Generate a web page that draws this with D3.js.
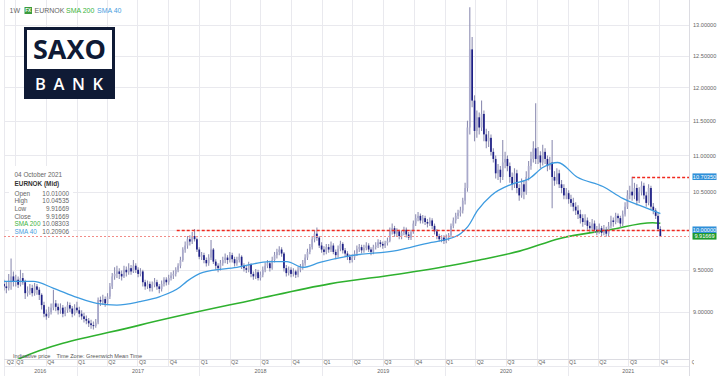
<!DOCTYPE html>
<html><head><meta charset="utf-8">
<script src="https://cdn.jsdelivr.net/npm/d3@7"></script>
<style>
body{margin:0;background:#fff;}
svg{display:block;font-family:"Liberation Sans",Arial,sans-serif;}
</style>
</head><body>
<svg id="c" width="720" height="382"></svg>
<script>
// ---------- DATA ----------
const firstWeek = "2016-05-23";   // weekly candles, Monday dates
const opens = [
9.35,9.33,9.30,9.28,9.35,9.42,9.36,9.38,9.32,9.40,
9.35,9.22,9.25,9.28,9.22,9.30,9.26,9.20,9.08,8.98,
8.95,9.00,9.05,9.10,9.06,9.02,9.05,8.98,9.02,9.08,
9.04,8.98,9.05,9.02,8.98,8.95,8.92,8.90,8.87,8.85,
8.84,8.88,9.14,9.12,9.15,9.10,9.18,9.30,9.42,9.45,
9.48,9.45,9.42,9.50,9.47,9.52,9.48,9.55,9.50,9.45,
9.48,9.35,9.30,9.33,9.28,9.32,9.35,9.30,9.27,9.33,
9.38,9.35,9.40,9.43,9.45,9.50,9.55,9.62,9.75,9.80,
9.88,9.85,9.92,9.88,9.75,9.66,9.68,9.62,9.58,9.65,
9.75,9.60,9.55,9.52,9.58,9.62,9.65,9.62,9.68,9.63,
9.58,9.62,9.66,9.55,9.52,9.50,9.56,9.45,9.42,9.47,
9.40,9.44,9.50,9.55,9.58,9.52,9.62,9.68,9.72,9.75,
9.70,9.52,9.46,9.50,9.45,9.48,9.44,9.50,9.53,9.58,
9.65,9.72,9.78,9.88,9.95,9.90,9.80,9.75,9.72,9.78,
9.75,9.80,9.72,9.68,9.76,9.82,9.74,9.70,9.66,9.62,
9.65,9.70,9.76,9.78,9.74,9.77,9.80,9.75,9.72,9.78,
9.80,9.84,9.82,9.80,9.83,9.86,9.98,10.02,9.95,9.98,
9.92,9.96,10.00,9.94,9.90,9.97,10.08,10.15,10.18,10.12,
10.15,10.10,10.08,10.12,10.05,9.98,9.92,9.88,9.90,9.86,
9.90,9.93,10.05,10.12,10.18,10.22,10.25,10.38,10.55,11.40,
12.60,11.80,11.35,11.55,11.40,11.60,11.30,11.20,11.25,11.05,
10.95,10.75,10.80,10.70,10.90,10.95,10.85,10.70,10.60,10.75,
10.55,10.45,10.60,10.50,10.70,10.85,10.95,11.10,10.95,11.00,
10.90,11.05,10.95,10.85,10.90,10.70,10.65,10.75,10.60,10.55,
10.45,10.48,10.40,10.35,10.30,10.25,10.20,10.15,10.10,10.12,
10.05,10.02,10.08,10.00,9.98,10.02,9.96,10.00,9.95,10.05,
10.12,10.10,10.18,10.15,10.08,10.20,10.30,10.45,10.50,10.45,
10.55,10.38,10.50,10.58,10.45,10.35,10.55,10.30,10.25,10.18,
10.01];
const highs = [
9.42,9.38,9.36,9.45,9.64,9.48,9.44,9.42,9.50,9.46,
9.38,9.30,9.33,9.32,9.34,9.33,9.29,9.22,9.12,9.03,
9.06,9.10,9.26,9.14,9.10,9.10,9.08,9.06,9.12,9.11,
9.07,9.09,9.12,9.06,9.02,8.99,8.96,8.93,8.91,8.89,
8.92,9.17,9.18,9.20,9.18,9.22,9.34,9.46,9.53,9.55,
9.52,9.49,9.55,9.54,9.58,9.56,9.62,9.58,9.53,9.52,
9.50,9.38,9.37,9.36,9.36,9.40,9.38,9.33,9.37,9.41,
9.41,9.44,9.47,9.49,9.53,9.58,9.66,9.78,9.85,9.92,
9.93,9.97,10.01,9.90,9.78,9.72,9.71,9.65,9.69,9.87,
9.77,9.63,9.58,9.62,9.66,9.70,9.68,9.72,9.71,9.66,
9.66,9.70,9.68,9.58,9.55,9.60,9.58,9.48,9.51,9.50,
9.48,9.54,9.59,9.62,9.61,9.66,9.72,9.76,9.79,9.78,
9.72,9.56,9.54,9.53,9.52,9.50,9.54,9.57,9.62,9.69,
9.76,9.82,9.92,9.99,10.03,9.92,9.84,9.79,9.82,9.82,
9.85,9.83,9.75,9.80,9.86,9.84,9.77,9.73,9.69,9.69,
9.74,9.80,9.82,9.81,9.81,9.84,9.83,9.78,9.81,9.84,
9.88,9.87,9.85,9.86,9.90,10.03,10.08,10.05,10.02,10.00,
9.99,10.04,10.03,9.97,10.00,10.12,10.20,10.23,10.21,10.19,
10.18,10.14,10.16,10.15,10.08,10.01,9.95,9.93,9.93,9.94,
9.96,10.08,10.16,10.22,10.26,10.30,10.42,10.62,11.50,13.30,
12.80,11.88,11.65,11.62,11.80,11.65,11.38,11.35,11.30,11.10,
11.00,10.88,10.85,11.22,11.05,11.00,10.90,10.76,10.82,10.80,
10.60,10.68,10.66,10.78,10.92,11.05,11.20,11.76,11.12,11.06,
11.15,11.10,11.00,10.98,11.22,10.78,10.82,10.80,10.66,10.60,
10.55,10.52,10.46,10.42,10.36,10.32,10.26,10.20,10.20,10.16,
10.10,10.14,10.12,10.05,10.08,10.05,10.06,10.04,10.10,10.18,
10.16,10.22,10.21,10.18,10.25,10.36,10.52,10.58,10.7035,10.62,
10.60,10.56,10.64,10.62,10.50,10.60,10.58,10.35,10.28,10.22,
10.04535];
const lows = [
9.28,9.25,9.22,9.25,9.26,9.30,9.30,9.28,9.30,9.32,
9.15,9.18,9.20,9.18,9.19,9.20,9.14,9.03,8.94,8.91,
8.93,8.97,9.02,9.01,8.97,8.98,8.94,8.95,8.99,9.00,
8.94,8.96,8.99,8.94,8.91,8.88,8.86,8.83,8.81,8.80,
8.82,8.86,9.07,9.08,9.06,9.08,9.15,9.27,9.38,9.40,
9.39,9.37,9.40,9.42,9.44,9.44,9.46,9.46,9.41,9.42,
9.30,9.26,9.27,9.24,9.24,9.29,9.26,9.22,9.24,9.30,
9.31,9.32,9.37,9.39,9.42,9.47,9.52,9.60,9.71,9.76,
9.80,9.82,9.85,9.72,9.63,9.62,9.58,9.54,9.55,9.62,
9.57,9.50,9.47,9.49,9.55,9.58,9.57,9.59,9.59,9.54,
9.55,9.59,9.51,9.48,9.46,9.47,9.41,9.38,9.39,9.37,
9.37,9.41,9.47,9.52,9.48,9.50,9.59,9.64,9.68,9.66,
9.48,9.42,9.43,9.41,9.42,9.40,9.41,9.47,9.50,9.55,
9.62,9.69,9.75,9.84,9.86,9.77,9.71,9.68,9.69,9.71,
9.72,9.69,9.63,9.65,9.73,9.70,9.66,9.62,9.58,9.59,
9.62,9.67,9.72,9.70,9.71,9.74,9.72,9.68,9.69,9.75,
9.77,9.78,9.76,9.77,9.80,9.84,9.94,9.91,9.92,9.88,
9.88,9.93,9.90,9.87,9.87,9.95,10.05,10.11,10.08,10.08,
10.06,10.03,10.05,10.01,9.94,9.88,9.85,9.84,9.82,9.83,
9.86,9.90,10.02,10.08,10.14,10.17,10.21,10.33,10.50,11.30,
11.70,11.20,11.25,11.30,11.35,11.20,11.10,11.12,11.00,10.90,
10.68,10.66,10.62,10.66,10.82,10.78,10.62,10.52,10.55,10.48,
10.38,10.42,10.40,10.46,10.65,10.80,10.90,10.88,10.88,10.82,
10.86,10.88,10.78,10.80,10.28,10.58,10.60,10.55,10.48,10.40,
10.40,10.34,10.30,10.24,10.19,10.14,10.08,10.04,10.06,10.00,
9.97,9.99,9.96,9.93,9.95,9.92,9.93,9.91,9.92,10.02,
10.04,10.07,10.09,10.03,10.05,10.17,10.27,10.40,10.38,10.40,
10.32,10.35,10.45,10.40,10.30,10.32,10.26,10.20,10.14,9.98,
9.91669];
const closes = [
9.33,9.30,9.28,9.35,9.42,9.36,9.38,9.32,9.40,9.35,
9.22,9.25,9.28,9.22,9.30,9.26,9.20,9.08,8.98,8.95,
9.00,9.05,9.10,9.06,9.02,9.05,8.98,9.02,9.08,9.04,
8.98,9.05,9.02,8.98,8.95,8.92,8.90,8.87,8.85,8.84,
8.88,9.14,9.12,9.15,9.10,9.18,9.30,9.42,9.45,9.48,
9.45,9.42,9.50,9.47,9.52,9.48,9.55,9.50,9.45,9.48,
9.35,9.30,9.33,9.28,9.32,9.35,9.30,9.27,9.33,9.38,
9.35,9.40,9.43,9.45,9.50,9.55,9.62,9.75,9.80,9.88,
9.85,9.92,9.88,9.75,9.66,9.68,9.62,9.58,9.65,9.75,
9.60,9.55,9.52,9.58,9.62,9.65,9.62,9.68,9.63,9.58,
9.62,9.66,9.55,9.52,9.50,9.56,9.45,9.42,9.47,9.40,
9.44,9.50,9.55,9.58,9.52,9.62,9.68,9.72,9.75,9.70,
9.52,9.46,9.50,9.45,9.48,9.44,9.50,9.53,9.58,9.65,
9.72,9.78,9.88,9.95,9.90,9.80,9.75,9.72,9.78,9.75,
9.80,9.72,9.68,9.76,9.82,9.74,9.70,9.66,9.62,9.65,
9.70,9.76,9.78,9.74,9.77,9.80,9.75,9.72,9.78,9.80,
9.84,9.82,9.80,9.83,9.86,9.98,10.02,9.95,9.98,9.92,
9.96,10.00,9.94,9.90,9.97,10.08,10.15,10.18,10.12,10.15,
10.10,10.08,10.12,10.05,9.98,9.92,9.88,9.90,9.86,9.90,
9.93,10.05,10.12,10.18,10.22,10.25,10.38,10.55,11.40,12.60,
11.80,11.35,11.55,11.40,11.60,11.30,11.20,11.25,11.05,10.95,
10.75,10.80,10.70,10.90,10.95,10.85,10.70,10.60,10.75,10.55,
10.45,10.60,10.50,10.70,10.85,10.95,11.10,10.95,11.00,10.90,
11.05,10.95,10.85,10.90,10.70,10.65,10.75,10.60,10.55,10.45,
10.48,10.40,10.35,10.30,10.25,10.20,10.15,10.10,10.12,10.05,
10.02,10.08,10.00,9.98,10.02,9.96,10.00,9.95,10.05,10.12,
10.10,10.18,10.15,10.08,10.20,10.30,10.45,10.50,10.45,10.55,
10.38,10.50,10.58,10.45,10.35,10.55,10.30,10.25,10.18,10.01,
9.91669];

const sma40Dates = ["2016-05-30","2016-08-25","2016-10-23","2017-01-02","2017-03-02","2017-05-01","2017-07-08","2017-09-06","2017-11-04","2017-11-25","2018-01-12","2018-04-23","2018-07-30","2018-09-19","2018-11-05","2018-12-26","2019-03-24","2019-08-14","2019-11-23","2020-01-01","2020-02-20","2020-03-10","2020-04-08","2020-05-19","2020-07-18","2020-09-10","2020-10-19","2020-12-03","2021-01-29","2021-04-16","2021-06-14","2021-08-13","2021-10-04"];
const sma40Values = [9.36,9.36,9.28,9.17,9.10,9.08,9.12,9.18,9.29,9.36,9.47,9.53,9.60,9.60,9.53,9.59,9.67,9.74,9.84,9.87,9.96,10.04,10.25,10.45,10.60,10.68,10.83,10.90,10.70,10.57,10.41,10.30,10.20906];

const sma200Dates = ["2016-05-30","2016-07-10","2017-07-08","2018-06-10","2019-01-24","2019-08-20","2020-01-16","2020-04-14","2020-08-11","2020-12-09","2021-05-06","2021-09-11","2021-10-04"];
const sma200Values = [8.40,8.47,8.85,9.14,9.33,9.45,9.55,9.62,9.73,9.89,10.00,10.09,10.08303];

const yTickValues = [9,9.5,10,10.5,11,11.5,12,12.5,13];

const levelValues = [10.70350, 10.00000, 9.91669];
const levelStarts = ["2021-07-12","2017-10-26","2016-05-01"];
const levelLabels = ["10.70350","10.00000","9.91669"];

const infoLabels = ["Open","High","Low","Close","SMA 200","SMA 40"];
const infoValues = ["10.01000","10.04535","9.91669","9.91669","10.08303","10.20906"];

// ---------- CHART ----------
const svg = d3.select("#c");
const X0 = 4, X1 = 689, Y0 = 0, Y1 = 359;
const C = {grid:"#e9e9ee", text:"#666", green:"#2fb12f", blue:"#3d9be0",
           wick:"#8f8fb3", up:"#a9a9cb", down:"#1d1f86", navy:"#0f1a35", red:"#f0281e"};
const parse = d3.utcParse("%Y-%m-%d");
const x = d3.scaleUtc().domain([parse("2017-01-01"), parse("2021-01-01")]).range([76.6, 567.6]);
const y = d3.scaleLog().domain([9, 13]).range([312, 25]);

const defs = svg.append("defs");
defs.append("clipPath").attr("id","plot").append("rect")
  .attr("x",X0).attr("y",Y0).attr("width",X1-X0).attr("height",Y1-Y0);
defs.append("clipPath").attr("id","xax").append("rect")
  .attr("x",X0).attr("y",Y1).attr("width",694-X0).attr("height",382-Y1);

// grid
const quarters = d3.utcMonth.every(3).range(parse("2016-04-01"), parse("2022-02-01"));
const gGrid = svg.append("g");
gGrid.selectAll(".hg").data(yTickValues).join("line")
  .attr("x1",X0).attr("x2",X1).attr("y1",d=>Math.round(y(d))+0.5).attr("y2",d=>Math.round(y(d))+0.5)
  .attr("stroke",C.grid);
gGrid.selectAll(".vg").data(quarters.filter(q=>x(q)>=X0 && x(q)<=X1)).join("line")
  .attr("x1",d=>Math.round(x(d))+0.5).attr("x2",d=>Math.round(x(d))+0.5)
  .attr("y1",Y0).attr("y2",366.5).attr("stroke",C.grid);
// frame
svg.append("line").attr("x1",X0+0.5).attr("x2",X0+0.5).attr("y1",0).attr("y2",376).attr("stroke",C.grid);
svg.append("line").attr("x1",X1+0.5).attr("x2",X1+0.5).attr("y1",0).attr("y2",376).attr("stroke","#dcdce2");
svg.append("line").attr("x1",X0).attr("x2",X1).attr("y1",Y1+0.5).attr("y2",Y1+0.5).attr("stroke","#dcdce2");
svg.append("line").attr("x1",X0).attr("x2",X1).attr("y1",366.5).attr("y2",366.5).attr("stroke",C.grid);

// logo
const logo = svg.append("g");
logo.append("rect").attr("x",24).attr("y",27).attr("width",91).attr("height",72).attr("fill",C.navy);
logo.append("rect").attr("x",27).attr("y",30).attr("width",85).attr("height",39).attr("fill","#fff");
logo.append("text").attr("x",69.5).attr("y",58.5).attr("text-anchor","middle")
  .attr("font-family","'Open Sans','DejaVu Sans',sans-serif").attr("font-weight",700)
  .attr("font-size",26).attr("fill",C.navy).attr("textLength",73).attr("lengthAdjust","spacingAndGlyphs").text("SAXO");
logo.append("text").attr("x",35).attr("y",90).attr("font-family","'Open Sans','DejaVu Sans',sans-serif")
  .attr("font-weight",600).attr("font-size",16.5).attr("fill","#fff")
  .attr("textLength",68).attr("lengthAdjust","spacing").text("BANK");

// SMA lines
const plot = svg.append("g").attr("clip-path","url(#plot)");
const line = d3.line().x(d=>x(d[0])).y(d=>y(d[1])).curve(d3.curveMonotoneX);
plot.append("path").datum(sma200Dates.map((d,i)=>[parse(d),sma200Values[i]]))
  .attr("d",line).attr("fill","none").attr("stroke",C.green).attr("stroke-width",1.6);

// candles
const candles = closes.map((c,i)=>({date:d3.utcDay.offset(parse(firstWeek),7*i),o:opens[i],h:highs[i],l:lows[i],c}));
const cg = plot.append("g");
cg.selectAll("line").data(candles).join("line")
  .attr("x1",d=>x(d.date)).attr("x2",d=>x(d.date))
  .attr("y1",d=>y(d.h)).attr("y2",d=>y(d.l)).attr("stroke",C.wick).attr("stroke-width",1.1);
cg.selectAll("rect").data(candles).join("rect")
  .attr("x",d=>x(d.date)-0.85).attr("width",1.7)
  .attr("y",d=>y(Math.max(d.o,d.c)))
  .attr("height",d=>Math.max(1,Math.abs(y(d.o)-y(d.c))))
  .attr("fill",d=>d.c>=d.o?C.up:C.down);

plot.append("path").datum(sma40Dates.map((d,i)=>[parse(d),sma40Values[i]]))
  .attr("d",line).attr("fill","none").attr("stroke",C.blue).attr("stroke-width",1.3);

// level lines (drawn above the plot clip so the colour stays pure)
const lvColors = [C.red, C.red, "#f28c88"];
const lvGroup = svg.append("g");
levelValues.forEach((v,i)=>{
  lvGroup.append("line").attr("x1",Math.max(X0,x(parse(levelStarts[i])))).attr("x2",X1)
    .attr("y1",Math.round(y(v))+0.5).attr("y2",Math.round(y(v))+0.5)
    .style("stroke",lvColors[i]).attr("stroke-width",i<2?1.3:1).attr("stroke-dasharray",i<2?"3,2":"2,2");
});

// y axis (10.00000 tick label is hidden by the level label box in the reference)
const yAxis = svg.append("g").attr("transform",`translate(${X1},0)`)
  .call(d3.axisRight(y).tickValues(yTickValues.filter(v=>v!==10)).tickFormat(d3.format(".5f")).tickSize(0).tickPadding(4));
yAxis.select(".domain").remove();
yAxis.selectAll("text").attr("font-size",5.6).attr("fill",C.text).attr("font-family","'Liberation Sans',Arial,sans-serif");

// level labels
const lvBg = ["#2f8fd8","#2f8fd8","#1e9a2e"];
levelValues.forEach((v,i)=>{
  const yy = y(v);
  svg.append("rect").attr("x",692.5).attr("y",yy-3.3).attr("width",24).attr("height",6.6).attr("fill",lvBg[i]);
  svg.append("text").attr("x",704.5).attr("y",yy).attr("dy","0.35em").attr("text-anchor","middle")
    .attr("font-size",5.6).attr("fill","#fff").text(levelLabels[i]);
});

// x axis (quarters)
const xg = svg.append("g").attr("clip-path","url(#xax)");
xg.selectAll("text.q").data(quarters).join("text")
  .attr("x",d=>Math.max(6.7, x(d)+1.5)).attr("y",362).attr("dy","0.35em")
  .attr("font-size",5.4).attr("fill",C.text).text(d=>"Q"+(Math.floor(d.getUTCMonth()/3)+1));
const years = [2016,2017,2018,2019,2020,2021];
xg.selectAll("text.y").data(years).join("text")
  .attr("x",d=>{const a=Math.max(X0,x(parse(d+"-01-01"))), b=Math.min(X1,x(parse((d+1)+"-01-01"))); return (a+b)/2;})
  .attr("y",371.5).attr("dy","0.35em").attr("text-anchor","middle")
  .attr("font-size",5.4).attr("fill",C.text).text(d=>d);
svg.selectAll("line.ys").data(years.slice(1)).join("line")
  .attr("x1",d=>Math.round(x(parse(d+"-01-01")))+0.5).attr("x2",d=>Math.round(x(parse(d+"-01-01")))+0.5)
  .attr("y1",366.5).attr("y2",376).attr("stroke",C.grid);

svg.append("text").attr("x",13).attr("y",357.5).attr("font-size",5.6).attr("fill","#555")
  .attr("xml:space","preserve").text("Indicative price    Time Zone: Greenwich Mean Time");

// top legend
const lg = svg.append("g").attr("font-size",7);
lg.append("text").attr("x",9.5).attr("y",12.5).attr("fill",C.text).text("1W");
lg.append("rect").attr("x",24.5).attr("y",7).attr("width",7.5).attr("height",7).attr("fill","#3c9c3c");
lg.append("text").attr("x",28.25).attr("y",12.4).attr("text-anchor","middle").attr("font-size",4.6)
  .attr("font-weight",700).attr("fill","#fff").text("FX");
lg.append("text").attr("x",34.5).attr("y",12.5).attr("fill",C.text).text("EURNOK");
lg.append("text").attr("x",66).attr("y",12.5).attr("fill","#3cb43c").text("SMA 200");
lg.append("text").attr("x",97).attr("y",12.5).attr("fill","#4aa0e0").text("SMA 40");

// info box
const ib = svg.append("g").attr("font-size",6.4);
ib.append("rect").attr("x",9).attr("y",166).attr("width",64).attr("height",70).attr("fill","#fff");
ib.append("text").attr("x",14.5).attr("y",174.3).attr("dy","0.35em").attr("fill",C.text).text("04 October 2021");
ib.append("text").attr("x",14.5).attr("y",183.8).attr("dy","0.35em").attr("fill","#333").attr("font-weight",700).text("EURNOK (Mid)");
const infoColors = [C.text,C.text,C.text,C.text,"#3cb43c","#4aa0e0"];
infoLabels.forEach((l,i)=>{
  const yy = 193.3 + i*7.7;
  ib.append("text").attr("x",14.5).attr("y",yy).attr("dy","0.35em").attr("fill",infoColors[i]).text(l);
  ib.append("text").attr("x",69).attr("y",yy).attr("dy","0.35em").attr("text-anchor","end").attr("fill",C.text).text(infoValues[i]);
});
</script>
</body></html>
